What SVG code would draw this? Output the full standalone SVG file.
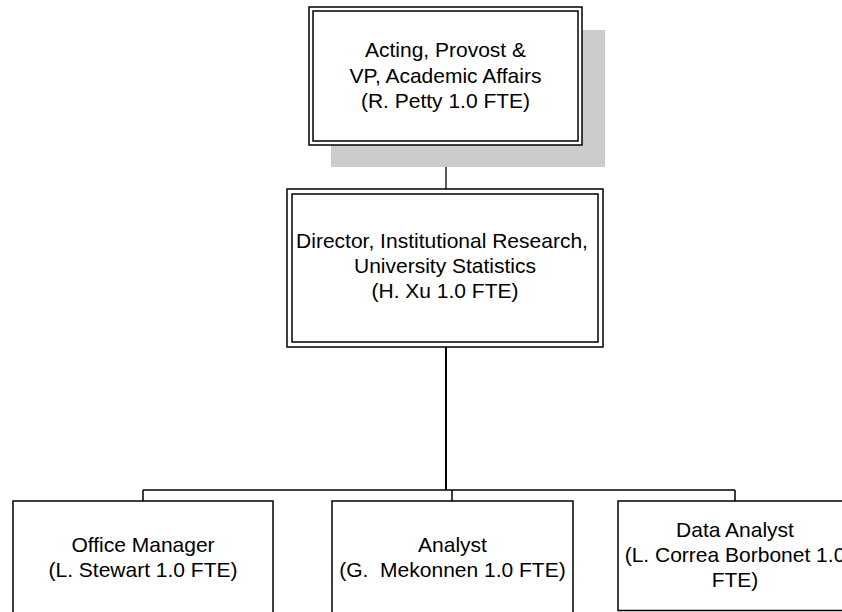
<svg xmlns="http://www.w3.org/2000/svg" width="842" height="612" viewBox="0 0 842 612">
<style>
.bx{fill:#fff;stroke:#000;stroke-width:1.5}
.in{fill:none;stroke:#000;stroke-width:1.5}
.t{font-family:"Liberation Sans",Arial,sans-serif;font-size:21px;fill:#000;text-anchor:middle;white-space:pre}
.c{stroke:#000;fill:none}
</style>
<rect width="842" height="612" fill="#fff"/>
<g id="connectors">
<line class="c" x1="446" y1="145" x2="446" y2="189" stroke-width="1.3"/>
<line class="c" x1="446" y1="347" x2="446" y2="490" stroke-width="2"/>
<line class="c" x1="143" y1="490" x2="735" y2="490" stroke-width="1.5"/>
<line class="c" x1="143" y1="490" x2="143" y2="501" stroke-width="1.5"/>
<line class="c" x1="452" y1="490" x2="452" y2="501" stroke-width="1.5"/>
<line class="c" x1="735" y1="490" x2="735" y2="501" stroke-width="1.5"/>
</g>
<g id="provost">
<rect x="331" y="30" width="274" height="137" fill="#cccccc"/>
<rect class="bx" x="309" y="7" width="273" height="138"/>
<rect class="in" x="313" y="11" width="265" height="130"/>
<text class="t" x="445.5" y="57">Acting, Provost &amp;</text>
<text class="t" x="445.5" y="83">VP, Academic Affairs</text>
<text class="t" x="445.5" y="108">(R. Petty 1.0 FTE)</text>
</g>
<g id="director">
<rect class="bx" x="287" y="189" width="316" height="158"/>
<rect class="in" x="292" y="194" width="306" height="148"/>
<text class="t" x="442" y="248">Director, Institutional Research,</text>
<text class="t" x="445" y="273">University Statistics</text>
<text class="t" x="445" y="298">(H. Xu 1.0 FTE)</text>
</g>
<g id="office-manager">
<rect class="bx" x="13" y="501" width="260" height="130"/>
<text class="t" x="143" y="552">Office Manager</text>
<text class="t" x="143" y="577">(L. Stewart 1.0 FTE)</text>
</g>
<g id="analyst">
<rect class="bx" x="332" y="501" width="241" height="130"/>
<text class="t" x="452.5" y="552">Analyst</text>
<text class="t" x="452.5" y="577">(G.  Mekonnen 1.0 FTE)</text>
</g>
<g id="data-analyst">
<rect class="bx" x="618" y="501" width="240" height="109.5"/>
<text class="t" x="735" y="537">Data Analyst</text>
<text class="t" x="735" y="562">(L. Correa Borbonet 1.0</text>
<text class="t" x="735" y="587">FTE)</text>
</g>
</svg>
